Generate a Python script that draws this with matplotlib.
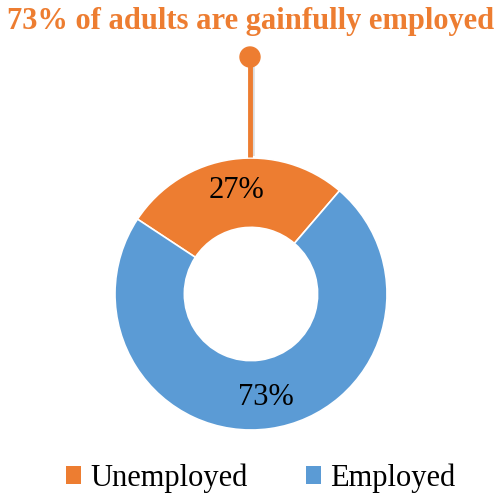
import matplotlib
matplotlib.use("Agg")
import matplotlib.pyplot as plt
from matplotlib.patches import Patch, Circle

categories = ["Unemployed", "Employed"]
values = [27, 73]
colors = ["#ED7D31", "#5B9BD5"]
title = "73% of adults are gainfully employed"

W, H = 501, 496
fig = plt.figure(figsize=(W / 100, H / 100), dpi=100)
ax = fig.add_axes([0, 0, 1, 1])

cx, cy, R = 251, 202, 136
wedges, texts, autotexts = ax.pie(
    values, colors=colors, startangle=49.4, counterclock=True,
    center=(cx, cy), radius=R, frame=True,
    wedgeprops=dict(width=R * 0.51, edgecolor="white", linewidth=1.2),
    autopct=lambda p: f"{p:.0f}%", pctdistance=0.77,
    textprops=dict(family="Liberation Serif", fontsize=22, color="black"))
ax.set_xlim(0, W)
ax.set_ylim(0, H)
ax.set_aspect("equal")
ax.axis("off")

# connector with dot
ax.plot([252, 252], [H - 156, H - 66], color="#bbbbbb", lw=4, alpha=0.5, solid_capstyle="butt", zorder=4)
ax.plot([250, 250], [H - 157, H - 64], color=colors[0], lw=3.5, solid_capstyle="butt", zorder=5)
ax.add_patch(Circle((250, H - 57), 10, color=colors[0], zorder=6))

fig.text(0.5, 1 - 21 / H, title, ha="center", va="center", color=colors[0],
         fontsize=22, fontweight="bold", family="Liberation Serif")

handles = [Patch(facecolor=c, edgecolor="none") for c in colors]
fig.legend(handles, categories, loc="center", bbox_to_anchor=(0.52, 1 - 478 / H),
           ncol=2, frameon=False, prop=dict(family="Liberation Serif", size=22),
           handlelength=0.5, handleheight=0.5, handletextpad=0.3, columnspacing=1.9)

fig.savefig("out.png", dpi=100)
